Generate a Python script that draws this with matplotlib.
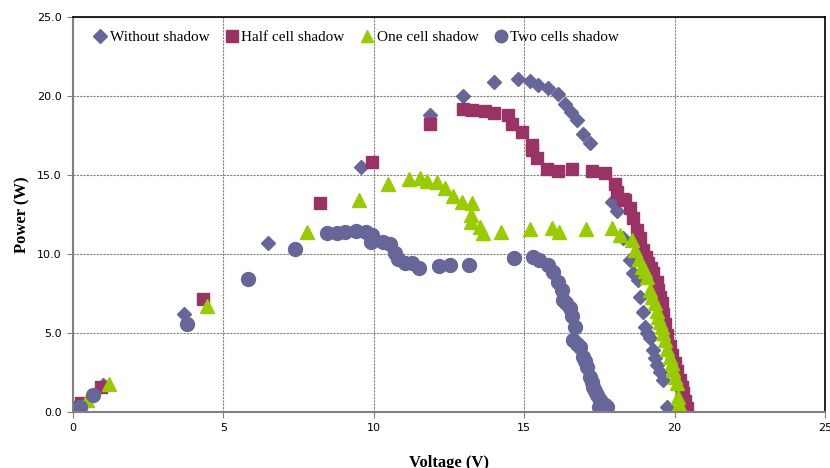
import matplotlib.pyplot as plt
from matplotlib.ticker import FormatStrFormatter, MultipleLocator

# P-V measurements of the panel under different shading conditions
v_none = [0.2, 1.0, 3.7, 6.48, 9.57, 11.87, 12.97, 14.0, 14.79, 15.19, 15.46, 15.79,
          16.12, 16.36, 16.56, 16.76, 16.95, 17.19, 17.92, 18.08, 18.3, 18.52, 18.62,
          18.78, 18.85, 18.95, 19.0, 19.08, 19.18, 19.28, 19.35, 19.4, 19.5, 19.6, 19.75]
p_none = [0.3, 1.7, 6.2, 10.7, 15.5, 18.8, 20.0, 20.9, 21.1, 20.95, 20.7, 20.5,
          20.1, 19.5, 19.0, 18.5, 17.6, 17.0, 13.3, 12.7, 11.0, 9.6, 8.8,
          8.35, 7.3, 6.3, 5.4, 5.0, 4.7, 3.9, 3.4, 3.0, 2.5, 2.0, 0.3]

v_half = [0.1, 0.25, 0.93, 4.32, 8.21, 9.94, 11.87, 12.97, 13.26, 13.7, 14.0, 14.46,
          14.6, 14.93, 15.26, 15.26, 15.43, 15.76, 16.12, 16.59, 17.25, 17.69, 18.02,
          18.08, 18.28, 18.35, 18.52, 18.62, 18.75, 18.85, 18.95, 19.05, 19.12, 19.2,
          19.28, 19.4, 19.45, 19.52, 19.58, 19.63, 19.68, 19.75, 19.85, 19.92, 20.01,
          20.08, 20.18, 20.23, 20.28, 20.35, 20.41]
p_half = [0.3, 0.6, 1.55, 7.15, 13.2, 15.8, 18.2, 19.2, 19.1, 19.05, 18.9, 18.8,
          18.2, 17.7, 16.9, 16.6, 16.1, 15.4, 15.25, 15.4, 15.25, 15.1, 14.4,
          13.9, 13.5, 13.4, 12.9, 12.3, 11.5, 11.0, 10.25, 9.8, 9.4, 9.1,
          8.8, 8.2, 7.7, 7.3, 6.9, 6.2, 5.6, 4.9, 4.2, 3.6, 3.1,
          2.6, 2.0, 1.6, 1.2, 0.7, 0.25]

v_one = [0.17, 0.47, 1.2, 4.45, 7.78, 9.51, 10.47, 11.17, 11.54, 11.77, 12.1, 12.37,
         12.63, 12.93, 13.26, 13.23, 13.23, 13.53, 13.63, 14.23, 15.19, 15.92, 16.16,
         17.05, 17.92, 18.18, 18.58, 18.68, 18.8, 18.92, 19.0, 19.08, 19.18, 19.25,
         19.35, 19.4, 19.45, 19.52, 19.58, 19.63, 19.68, 19.75, 19.85, 19.9, 19.95,
         20.02, 20.08, 20.11, 20.15, 20.18]
p_one = [0.3, 0.75, 1.8, 6.7, 11.4, 13.4, 14.4, 14.75, 14.8, 14.6, 14.55, 14.2,
         13.7, 13.3, 13.2, 12.45, 12.0, 11.7, 11.3, 11.4, 11.6, 11.65, 11.4,
         11.6, 11.65, 11.2, 10.9, 10.25, 9.7, 9.2, 8.9, 8.55, 7.7, 7.3,
         6.9, 6.4, 6.0, 5.7, 5.4, 5.0, 4.56, 4.0, 3.5, 3.1, 2.66,
         2.2, 1.84, 0.95, 0.5, 0.1]

v_two = [0.23, 0.67, 3.79, 5.82, 7.37, 8.44, 8.77, 9.04, 9.41, 9.74, 9.94, 9.9,
         10.3, 10.54, 10.7, 10.8, 11.04, 11.27, 11.5, 12.17, 12.53, 13.16, 14.66,
         15.29, 15.5, 15.8, 15.96, 16.12, 16.26, 16.29, 16.4, 16.52, 16.59, 16.69,
         16.62, 16.75, 16.85, 16.95, 17.02, 17.09, 17.19, 17.25, 17.29, 17.35, 17.42,
         17.52, 17.6, 17.69, 17.75, 17.5]
p_two = [0.3, 1.05, 5.6, 8.4, 10.3, 11.3, 11.33, 11.4, 11.45, 11.4, 11.2, 10.76,
         10.76, 10.63, 10.06, 9.7, 9.4, 9.4, 9.1, 9.25, 9.3, 9.3, 9.75,
         9.8, 9.6, 9.3, 8.86, 8.2, 7.7, 7.1, 6.9, 6.6, 6.1, 5.4,
         4.56, 4.3, 4.1, 3.5, 3.2, 2.85, 2.2, 1.9, 1.6, 1.35, 1.1,
         0.76, 0.55, 0.44, 0.3, 0.3]

fig = plt.figure(figsize=(8.3, 4.68), dpi=100)
ax = fig.add_axes([0.088, 0.1197, 0.906, 0.844])

ax.plot(v_none, p_none, 'D', color='#666699', ms=7.5, mec='#666699', label='Without shadow')
ax.plot(v_half, p_half, 's', color='#993366', ms=9, mec='#993366', label='Half cell shadow')
ax.plot(v_one, p_one, '^', color='#99cc00', ms=10, mec='#99cc00', label='One cell shadow')
ax.plot(v_two, p_two, 'o', color='#666699', ms=10, mec='#666699', label='Two cells shadow')

ax.set_xlim(0, 25)
ax.set_ylim(0, 25)
ax.xaxis.set_major_locator(MultipleLocator(5))
ax.yaxis.set_major_locator(MultipleLocator(5))
ax.yaxis.set_major_formatter(FormatStrFormatter('%.1f'))
ax.tick_params(labelsize=8, length=4, color='#808080', pad=4)
ax.grid(True, color='#808080', linestyle=(0, (2, 1)), linewidth=0.8)
ax.set_axisbelow(True)

for side in ['top', 'right']:
    ax.spines[side].set_color('black')
    ax.spines[side].set_linewidth(1.2)
for side in ['left', 'bottom']:
    ax.spines[side].set_color('#808080')
    ax.spines[side].set_linewidth(1.5)

ax.set_xlabel('Voltage (V)', family='Liberation Serif', fontweight='bold', fontsize=12, labelpad=16)
ax.set_ylabel('Power (W)', family='Liberation Serif', fontweight='bold', fontsize=12, labelpad=5)

ax.legend(loc='upper left', bbox_to_anchor=(0.01, 1.0), ncol=4, frameon=False,
          prop={'family': 'Liberation Serif', 'size': 11}, handlelength=0.8,
          handletextpad=0.2, columnspacing=1.1, markerscale=0.9)

fig.savefig('out.png', dpi=100)
